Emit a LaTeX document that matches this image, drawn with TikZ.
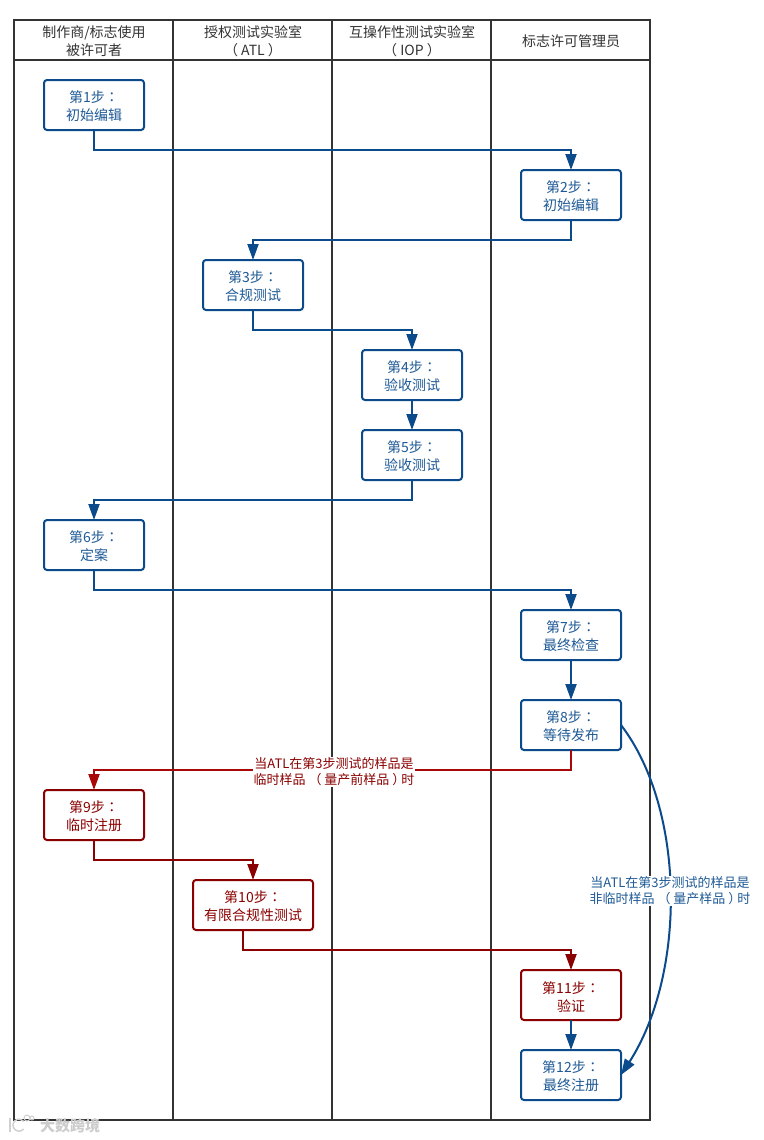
\documentclass[tikz,border=0pt]{standalone}
\usepackage{fontspec}
\setmainfont{Noto Sans CJK SC}
\newfontfamily\cjktc{Noto Sans CJK TC}
\usetikzlibrary{arrows.meta}
\newcommand{\cln}{{\cjktc ：}}
\newcommand{\lowr}{\rule{0pt}{15pt}}
\definecolor{lane}{HTML}{333333}
\definecolor{bluel}{HTML}{0B4B8C}
\definecolor{bluet}{HTML}{1F5A96}
\definecolor{darkr}{HTML}{8B0000}
\definecolor{brightr}{HTML}{A80808}
\tikzset{
  x=1pt,y=-1pt,
  lanel/.style={draw=lane,line width=2pt},
  head/.style={align=center,text=lane,font=\fontsize{14}{18}\selectfont,inner sep=0pt},
  bluebox/.style={draw=bluel,line width=2pt,rounded corners=3pt,minimum width=100pt,minimum height=50pt,inner sep=0pt,outer sep=0pt,align=center,text=bluet,font=\fontsize{14}{18}\selectfont},
  redbox/.style={bluebox,draw=darkr,text=darkr},
  bluearr/.style={draw=bluel,line width=2pt,-{Triangle[length=16pt,width=11pt,fill=bluel]}},
  redarr/.style={draw=darkr,line width=2pt,-{Triangle[length=16pt,width=11pt,fill=darkr]}},
  brightarr/.style={draw=brightr,line width=2pt,-{Triangle[length=16pt,width=11pt,fill=brightr]}},
  cond/.style={fill=white,align=center,inner sep=1pt,font=\fontsize{13}{16}\selectfont},
}
\begin{document}
\begin{tikzpicture}
\useasboundingbox (0,0) rectangle (763,1140);
\fill[white] (0,0) rectangle (763,1140);
% lanes
\draw[lanel] (14,20) rectangle (650,1120);
\draw[lanel] (14,60) -- (650,60);
\draw[lanel] (173,20) -- (173,1120);
\draw[lanel] (332,20) -- (332,1120);
\draw[lanel] (491,20) -- (491,1120);
\node[head] (h1) at (94,41) {制作商/标志使用\\被许可者};
\node[head] (h2) at (253,41) {授权测试实验室\\（ ATL ）};
\node[head] (h3) at (412,41) {互操作性测试实验室\\（ IOP ）};
\node[head] (h4) at (571,41) {标志许可管理员};
% boxes
\node[bluebox] (s1) at (94,105) {\lowr 第1步\cln\\初始编辑};
\node[bluebox] (s2) at (571,195) {\lowr 第2步\cln\\初始编辑};
\node[bluebox] (s3) at (253,285) {\lowr 第3步\cln\\合规测试};
\node[bluebox] (s4) at (412,375) {\lowr 第4步\cln\\验收测试};
\node[bluebox] (s5) at (412,455) {\lowr 第5步\cln\\验收测试};
\node[bluebox] (s6) at (94,545) {\lowr 第6步\cln\\定案};
\node[bluebox] (s7) at (571,635) {\lowr 第7步\cln\\最终检查};
\node[bluebox] (s8) at (571,725) {\lowr 第8步\cln\\等待发布};
\node[redbox] (s9) at (94,815) {\lowr 第9步\cln\\临时注册};
\node[redbox,minimum width=120pt] (s10) at (253,905) {\lowr 第10步\cln\\有限合规性测试};
\node[redbox] (s11) at (571,995) {\lowr 第11步\cln\\验证};
\node[bluebox] (s12) at (571,1075) {\lowr 第12步\cln\\最终注册};
% connectors
\draw[bluearr] (s1.south) -- ++(0,20) -| (s2.north);
\draw[bluearr] (s2.south) -- ++(0,20) -| (s3.north);
\draw[bluearr] (s3.south) -- ++(0,20) -| (s4.north);
\draw[bluearr] (s4.south) -- (s5.north);
\draw[bluearr] (s5.south) -- ++(0,20) -| (s6.north);
\draw[bluearr] (s6.south) -- ++(0,20) -| (s7.north);
\draw[bluearr] (s7.south) -- (s8.north);
\draw[brightarr] (s8.south) -- ++(0,20) -| (s9.north);
\draw[redarr] (s9.south) -- ++(0,20) -| (s10.north);
\coordinate (s10out) at (243,930);
\draw[redarr] (s10out) -- ++(0,20) -| (s11.north);
\draw[bluearr] (s11.south) -- (s12.north);
\coordinate (c1) at (686,810);
\coordinate (c2) at (686,974);
\draw[bluearr] (s8.east) .. controls (c1) and (c2) .. (s12.east);
% condition labels
\node[cond,text=darkr] (l1) at (334,772) {当ATL在第3步测试的样品是\\临时样品 （ 量产前样品 ）\kern-4pt 时};
\node[cond,text=bluet] (l2) at (670,891) {当ATL在第3步测试的样品是\\非临时样品 （ 量产样品 ）\kern-4pt 时};
% watermark
\node[text=black!20,font=\fontsize{15}{15}\selectfont\bfseries,inner sep=0pt] (wm) at (70,1126) {大数跨境};
\draw[black!18,line width=1.5pt] (10,1118) -- (10,1132);
\draw[black!18,line width=1.5pt] (23.6,1129) arc (40:320:6);
\draw[black!18,line width=1pt] (27,1118) circle (3);
\draw[black!18,line width=1pt] (32,1118) circle (2);
\end{tikzpicture}
\end{document}
